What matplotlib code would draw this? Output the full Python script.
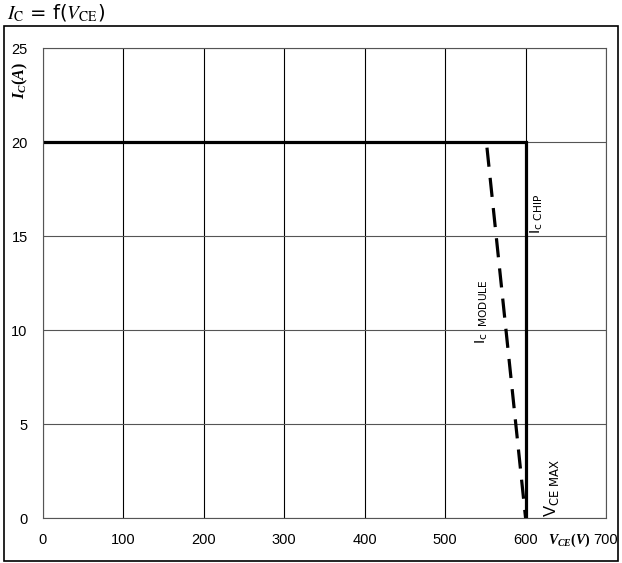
import matplotlib.pyplot as plt
from matplotlib.patches import Rectangle

plt.rcParams['mathtext.fontset'] = 'custom'
plt.rcParams['mathtext.it'] = 'Liberation Serif:italic:bold'
plt.rcParams['mathtext.rm'] = 'Liberation Serif:bold'

# chip limit (solid) and module limit (dashed)
chip_v = [0, 600, 600]
chip_i = [20, 20, 0]
module_v = [552, 600]
module_i = [19.7, 0]

xticks = [0, 100, 200, 300, 400, 500, 600, 700]
yticks = [0, 5, 10, 15, 20, 25]

fig = plt.figure(figsize=(6.22, 5.63), dpi=100)
ax = fig.add_axes([0.0691, 0.0799, 0.9052, 0.8348])

ax.plot(chip_v, chip_i, color='black', lw=2.3, solid_joinstyle='miter')
ax.plot(module_v, module_i, color='black', lw=2.3, dashes=(6, 3.5))

ax.set_xlim(0, 700)
ax.set_ylim(0, 25)
ax.set_xticks(xticks)
ax.set_yticks(yticks)
ax.tick_params(length=0, labelsize=10.5, pad=11)
for lab in ax.get_xticklabels() + ax.get_yticklabels():
    lab.set_fontfamily('Liberation Sans')
ax.grid(True, axis='x', color='black', lw=0.8)
ax.grid(True, axis='y', color='#555555', lw=0.8)
for s in ax.spines.values():
    s.set_color('#555555')
    s.set_linewidth(0.8)

ax.text(681, -1.2, r'$V_{CE}(V)$', ha='right', va='center', fontsize=10,
        math_fontfamily='custom')
fig.text(0.033, 0.857, r'$I_C(A)$', rotation=90, ha='center', va='center', fontsize=11.5,
         math_fontfamily='custom')

ax.text(614, 16.2, r'I$_{\rm c\ CHIP}$', rotation=90, ha='center', va='center', fontsize=11,
        family='Liberation Sans', math_fontfamily='dejavusans')
ax.text(546, 11.0, r'I$_{\rm c\ \ MODULE}$', rotation=90, ha='center', va='center', fontsize=11,
        family='Liberation Sans', math_fontfamily='dejavusans')
ax.text(632, 1.6, r'V$_{\rm CE\ MAX}$', rotation=90, ha='center', va='center', fontsize=12,
        family='Liberation Sans', math_fontfamily='dejavusans')

fig.text(0.012, 0.977, r'$I_{\rm C}$ = f($V_{\rm CE}$)', ha='left', va='center', fontsize=14,
         math_fontfamily='stix')

fig.patches.append(Rectangle((0.006, 0.003), 0.988, 0.951, transform=fig.transFigure,
                             fill=False, edgecolor='black', lw=1.2))

fig.savefig('out.png', dpi=100)
